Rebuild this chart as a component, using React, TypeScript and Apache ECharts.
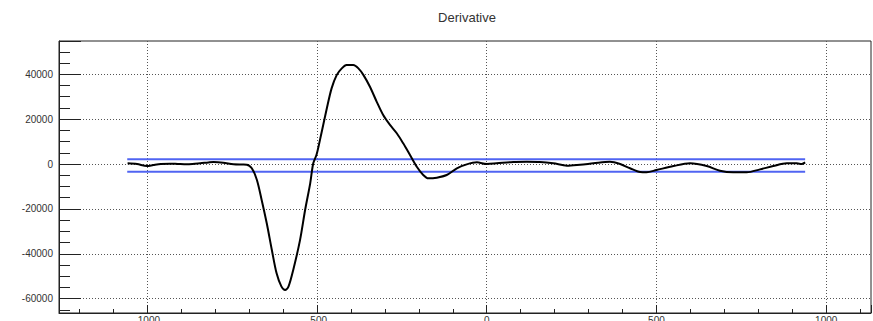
import React, { useEffect, useRef } from "react";
import * as echarts from "echarts";

const titleText = "Derivative";

const curveX = [
  -1058, -1030, -1001, -982, -960, -933, -910, -884, -860, -844, -820, -805, -776, -746, -720, -707,
  -692, -677, -663, -648, -633, -619, -605, -594, -584, -570, -550, -535, -520, -511, -501, -486,
  -471, -457, -442, -427, -413, -393, -378, -363, -344, -324, -305, -285, -265, -246, -226, -206,
  -187, -172, -147, -118, -88, -59, -29, 0, 29, 78, 118, 157, 196, 236, 275, 314, 363, 393, 422,
  452, 471, 500, 550, 599, 648, 687, 726, 766, 805, 844, 884, 913, 928, 938,
];
const curveY = [
  300, 0, -900, -450, 0, 150, 0, -150, 100, 300, 700, 900, 600, -150, -250, -300,
  -1900, -7100, -16000, -26400, -38300, -48700, -54500, -56100, -54600, -47200, -33900, -20500, -8600, 300, 4300, 14400,
  24800, 33700, 39600, 42600, 44100, 44100, 42600, 39600, 34400, 27700, 21800, 17400, 13700, 9200, 4000, -1200,
  -4900, -6400, -6100, -4900, -1900, -150, 750, 0, 300, 900, 1000, 900, 300, -750, -300, 300, 1000, 0, -1900,
  -3600, -3700, -2700, -900, 300, -900, -3000, -3700, -3700, -2400, -900, 300, 300, 0, 750,
];

const bandX = [-1059, 938];
const upperLevel = 2100;
const lowerLevel = -3400;

const xRange = [-1260, 1132];
const yRange = [-66370, 54790];
const xStep = 500;
const yStep = 20000;

const FONT = "'Liberation Sans', Arial, Helvetica, sans-serif";

export default function App() {
  const ref = useRef<HTMLDivElement>(null);
  useEffect(() => {
    document.body.style.margin = "0";
    if (!ref.current) return;
    const chart = echarts.init(ref.current, null, { renderer: "svg" });
    const curve = curveX.map((x, i) => [x, curveY[i]]);
    const upper = bandX.map((x) => [x, upperLevel]);
    const lower = bandX.map((x) => [x, lowerLevel]);
    chart.setOption({
      animation: false,
      backgroundColor: "#ffffff",
      title: {
        text: titleText,
        left: 467,
        top: 11,
        textAlign: "center",
        padding: 0,
        textStyle: { fontFamily: FONT, fontSize: 13, fontWeight: "normal", color: "#333" },
      },
      grid: {
        left: 59,
        top: 41,
        width: 812,
        height: 272,
        containLabel: false,
        outerBoundsMode: "none",
        show: true,
        borderColor: "#222",
        borderWidth: 1,
        backgroundColor: "transparent",
      },
      xAxis: {
        type: "value",
        min: xRange[0],
        max: xRange[1],
        minInterval: xStep,
        maxInterval: xStep,
        splitNumber: 5,
        axisLine: { show: true, onZero: false, lineStyle: { color: "#222", width: 1 } },
        axisTick: { show: true, inside: true, length: 8, lineStyle: { color: "#222", width: 1 } },
        minorTick: { show: true, splitNumber: 5, length: 4, lineStyle: { color: "#222", width: 1 } },
        axisLabel: {
          show: true,
          margin: 2,
          fontFamily: FONT,
          fontSize: 10,
          color: "#333",
          showMinLabel: false,
          showMaxLabel: false,
          formatter: (v: number) => String(v),
        },
        splitLine: {
          show: true,
          showMinLine: false,
          showMaxLine: false,
          lineStyle: { color: "#555", width: 1, type: [1, 2] },
        },
      },
      yAxis: {
        type: "value",
        min: yRange[0],
        max: yRange[1],
        minInterval: yStep,
        maxInterval: yStep,
        splitNumber: 6,
        axisLine: { show: true, onZero: false, lineStyle: { color: "#222", width: 1 } },
        axisTick: { show: true, inside: true, length: 22, lineStyle: { color: "#222", width: 1 } },
        minorTick: { show: true, splitNumber: 4, length: 11, lineStyle: { color: "#222", width: 1 } },
        axisLabel: {
          show: true,
          margin: 6,
          fontFamily: FONT,
          fontSize: 10,
          color: "#333",
          showMinLabel: false,
          showMaxLabel: false,
          formatter: (v: number) => String(v),
        },
        splitLine: {
          show: true,
          showMinLine: false,
          showMaxLine: false,
          lineStyle: { color: "#555", width: 1, type: [1, 2] },
        },
      },
      series: [
        {
          type: "line",
          data: upper,
          showSymbol: false,
          lineStyle: { color: "#5064f2", width: 2 },
          silent: true,
          z: 2,
        },
        {
          type: "line",
          data: lower,
          showSymbol: false,
          lineStyle: { color: "#5064f2", width: 2 },
          silent: true,
          z: 2,
        },
        {
          type: "line",
          data: curve,
          showSymbol: false,
          smooth: 0.3,
          lineStyle: { color: "#000", width: 2 },
          silent: true,
          z: 3,
        },
      ],
    });
    return () => chart.dispose();
  }, []);
  return (
    <div
      ref={ref}
      style={{ position: "absolute", left: 0, top: 0, width: 873, height: 321 }}
    />
  );
}
